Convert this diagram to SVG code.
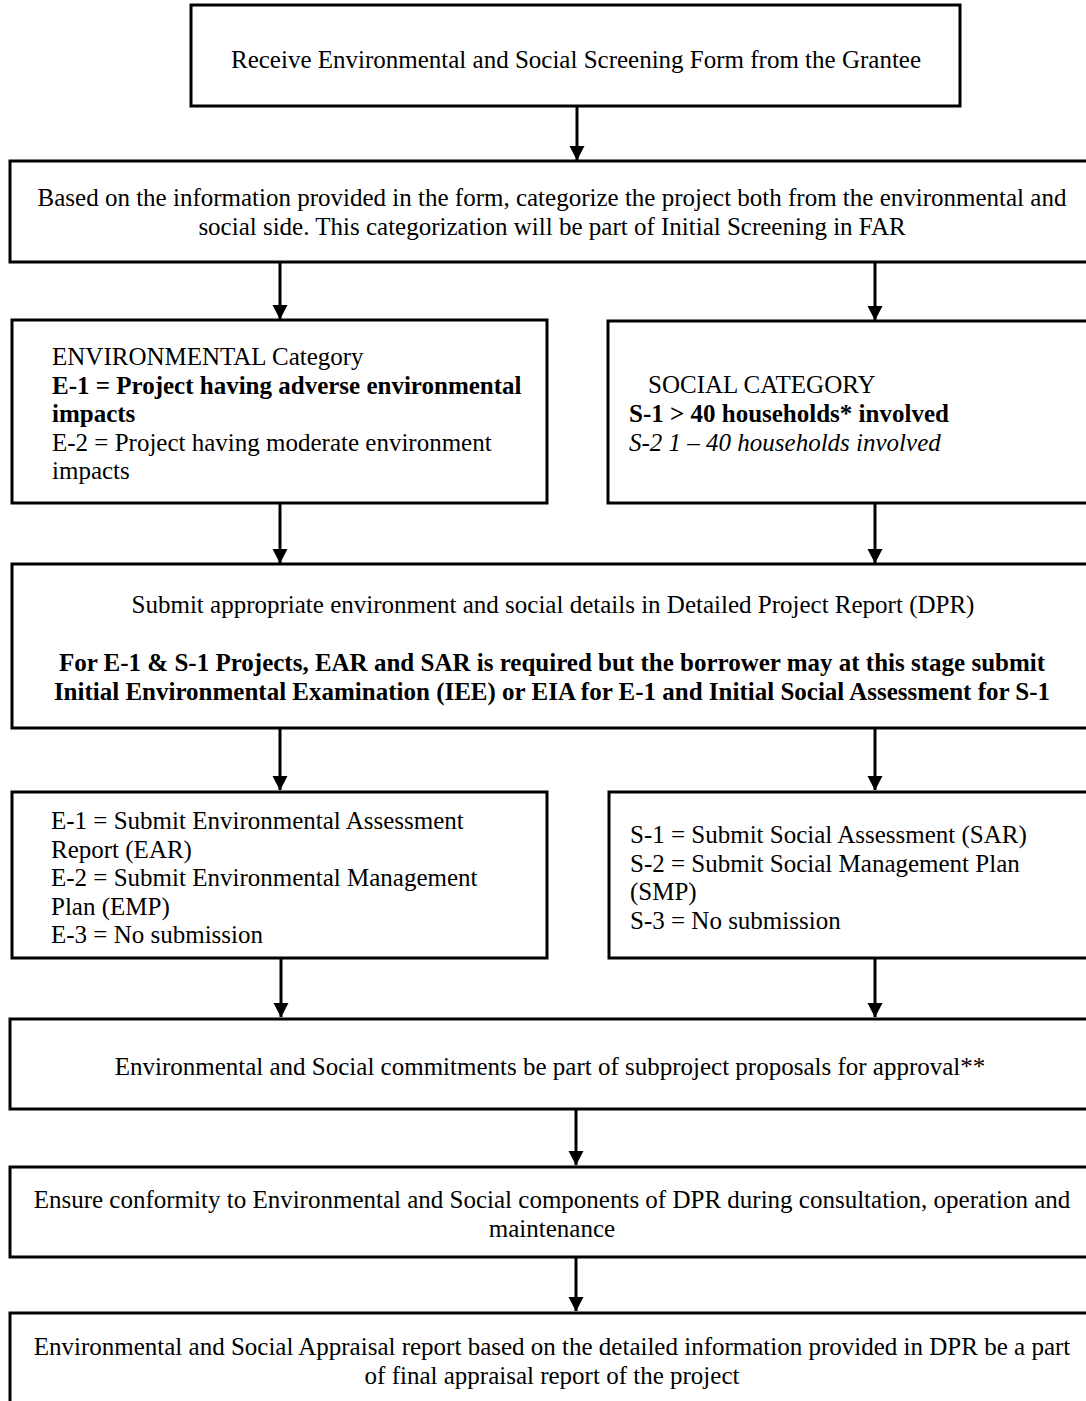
<svg xmlns="http://www.w3.org/2000/svg" width="1086" height="1401" viewBox="0 0 1086 1401">
<style>
.box{fill:#fff;stroke:#000;stroke-width:3}
.t{font-family:"Liberation Serif","Times New Roman",serif;font-size:25px;fill:#000}
.c{text-anchor:middle}
.b{font-weight:bold}
.i{font-style:italic}
.conn line{stroke:#000;stroke-width:3}
</style>
<defs>
<marker id="ah" markerUnits="userSpaceOnUse" markerWidth="15" markerHeight="16" refX="14" refY="8" orient="auto" viewBox="0 0 15 16">
<path d="M0,0.5 L14.5,8 L0,15.5 Z" fill="#000"/>
</marker>
</defs>
<rect x="0" y="0" width="1086" height="1401" fill="#fff"/>

<g id="n1">
<rect class="box" x="191" y="5" width="769" height="101"/>
<text class="t c" x="576" y="68">Receive Environmental and Social Screening Form from the Grantee</text>
</g>

<g id="n2">
<rect class="box" x="10" y="161" width="1090" height="101"/>
<text class="t c" x="552" y="206">Based on the information provided in the form, categorize the project both from the environmental and</text>
<text class="t c" x="552" y="235">social side. This categorization will be part of Initial Screening in FAR</text>
</g>

<g id="n3">
<rect class="box" x="12" y="320" width="535" height="183"/>
<text class="t" x="52" y="365">ENVIRONMENTAL Category</text>
<text class="t b" x="52" y="393.5">E-1 = Project having adverse environmental</text>
<text class="t b" x="52" y="422">impacts</text>
<text class="t" x="52" y="450.5">E-2 = Project having moderate environment</text>
<text class="t" x="52" y="479">impacts</text>
</g>

<g id="n4">
<rect class="box" x="608" y="321" width="490" height="182"/>
<text class="t" x="648" y="393">SOCIAL CATEGORY</text>
<text class="t b" x="629" y="422">S-1 &gt; 40 households* involved</text>
<text class="t i" x="629" y="451">S-2 1 – 40 households involved</text>
</g>

<g id="n5">
<rect class="box" x="12" y="564" width="1090" height="164"/>
<text class="t c" x="553" y="613">Submit appropriate environment and social details in Detailed Project Report (DPR)</text>
<text class="t c b" x="552" y="671">For E-1 &amp; S-1 Projects, EAR and SAR is required but the borrower may at this stage submit</text>
<text class="t c b" x="552" y="700">Initial Environmental Examination (IEE) or EIA for E-1 and Initial Social Assessment for S-1</text>
</g>

<g id="n6">
<rect class="box" x="12" y="792" width="535" height="166"/>
<text class="t" x="51" y="829">E-1 = Submit Environmental Assessment</text>
<text class="t" x="51" y="857.5">Report (EAR)</text>
<text class="t" x="51" y="886">E-2 = Submit Environmental Management</text>
<text class="t" x="51" y="914.5">Plan (EMP)</text>
<text class="t" x="51" y="943">E-3 = No submission</text>
</g>

<g id="n7">
<rect class="box" x="609" y="792" width="490" height="166"/>
<text class="t" x="630" y="843">S-1 = Submit Social Assessment (SAR)</text>
<text class="t" x="630" y="871.5">S-2 = Submit Social Management Plan</text>
<text class="t" x="630" y="900">(SMP)</text>
<text class="t" x="630" y="928.5">S-3 = No submission</text>
</g>

<g id="n8">
<rect class="box" x="10" y="1019" width="1090" height="90"/>
<text class="t c" x="550" y="1075">Environmental and Social commitments be part of subproject proposals for approval**</text>
</g>

<g id="n9">
<rect class="box" x="10" y="1167" width="1090" height="90"/>
<text class="t c" x="552" y="1208">Ensure conformity to Environmental and Social components of DPR during consultation, operation and</text>
<text class="t c" x="552" y="1237">maintenance</text>
</g>

<g id="n10">
<rect class="box" x="10" y="1313" width="1090" height="100"/>
<text class="t c" x="552" y="1355">Environmental and Social Appraisal report based on the detailed information provided in DPR be a part</text>
<text class="t c" x="552" y="1384">of final appraisal report of the project</text>
</g>

<g id="connectors" class="conn">
<line x1="577" y1="106" x2="577" y2="160" marker-end="url(#ah)"/>
<line x1="280" y1="262" x2="280" y2="319" marker-end="url(#ah)"/>
<line x1="875" y1="262" x2="875" y2="320" marker-end="url(#ah)"/>
<line x1="280" y1="503" x2="280" y2="563" marker-end="url(#ah)"/>
<line x1="875" y1="503" x2="875" y2="563" marker-end="url(#ah)"/>
<line x1="280" y1="728" x2="280" y2="790" marker-end="url(#ah)"/>
<line x1="875" y1="728" x2="875" y2="790" marker-end="url(#ah)"/>
<line x1="281" y1="958" x2="281" y2="1017" marker-end="url(#ah)"/>
<line x1="875" y1="958" x2="875" y2="1017" marker-end="url(#ah)"/>
<line x1="576" y1="1109" x2="576" y2="1165" marker-end="url(#ah)"/>
<line x1="576" y1="1257" x2="576" y2="1311" marker-end="url(#ah)"/>
</g>
</svg>
